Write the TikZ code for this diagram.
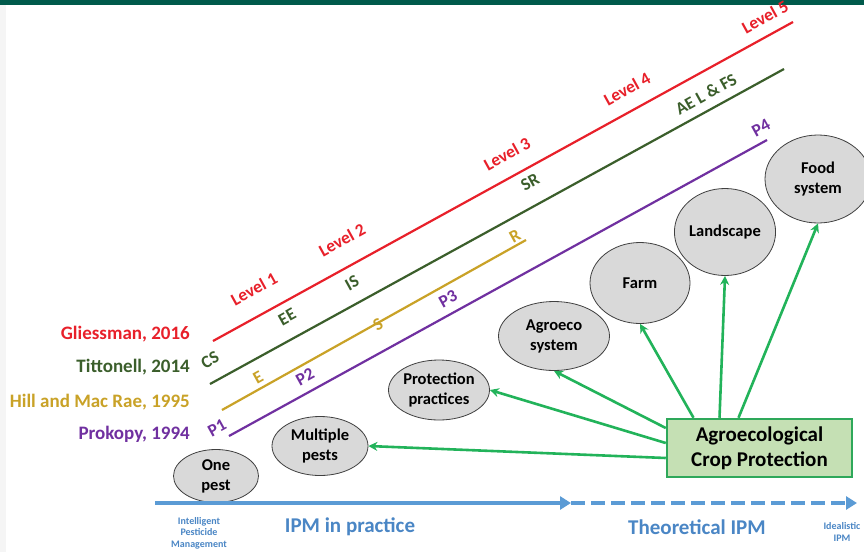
\documentclass[tikz,border=0pt]{standalone}
\usepackage{fontspec}
\setmainfont{Carlito}
\usetikzlibrary{arrows.meta,shapes.geometric}
\definecolor{cred}{HTML}{E8202A}
\definecolor{cgreen}{HTML}{3B5E2B}
\definecolor{cgold}{HTML}{C9A227}
\definecolor{cpurple}{HTML}{7030A0}
\definecolor{cblue}{HTML}{5B9BD5}
\definecolor{cbluetxt}{HTML}{4A86C5}
\definecolor{carrow}{HTML}{22B35A}
\definecolor{cboxfill}{HTML}{C5E0B4}
\definecolor{cboxdraw}{HTML}{2EA85A}
\definecolor{cband}{HTML}{005A4B}
\definecolor{cgray}{HTML}{D9D9D9}
\tikzset{
  lvl/.style={font=\bfseries\fontsize{17.5}{17.5}\selectfont, rotate=29, inner sep=0pt},
  author/.style={font=\bfseries\fontsize{19}{19}\selectfont, anchor=east, inner sep=0pt},
  oval/.style={ellipse, draw=black!75, line width=0.8pt, fill=cgray, align=center,
     font=\bfseries\fontsize{16.5}{20}\selectfont, inner sep=0pt},
  garrow/.style={draw=carrow, line width=2.6pt, -{Stealth[length=9pt,width=9pt]}},
  axisarr/.style={draw=cblue, line width=3.5pt, -{Triangle[length=11pt,width=13pt]}},
  small/.style={text=cbluetxt, font=\bfseries\fontsize{10}{11.5}\selectfont, align=center},
  big/.style={text=cbluetxt, font=\bfseries\fontsize{21}{23}\selectfont},
}
\begin{document}
\begin{tikzpicture}[x=1pt,y=-1pt]
\useasboundingbox (0,0) rectangle (864,552);
\fill[white] (0,0) rectangle (864,552);
\fill[black!4] (0,0) rectangle (6,552);
\fill[cband] (0,0) rectangle (864,5);
% level lines
\coordinate (r1) at (213,341); \coordinate (r2) at (793,22);
\coordinate (g1) at (210,384); \coordinate (g2) at (784,69);
\coordinate (y1) at (222,410); \coordinate (y2) at (526,240);
\coordinate (p1) at (229,436); \coordinate (p2) at (767,140);
\draw[cred, line width=2.2pt] (r1) -- (r2);
\draw[cgreen, line width=2.2pt] (g1) -- (g2);
\draw[cgold, line width=2.2pt] (y1) -- (y2);
\draw[cpurple, line width=2.2pt] (p1) -- (p2);
% authors
\node[author, text=cred] (a1) at (190,334) {Gliessman, 2016};
\node[author, text=cgreen] (a2) at (190,367) {Tittonell, 2014};
\node[author, text=cgold] (a3) at (190,402) {Hill and Mac Rae, 1995};
\node[author, text=cpurple] (a4) at (190,434) {Prokopy, 1994};
% level labels
\node[lvl, text=cred] (l1) at (254,289) {Level 1};
\node[lvl, text=cred] (l2) at (342,240) {Level 2};
\node[lvl, text=cred] (l3) at (507,154) {Level 3};
\node[lvl, text=cred] (l4) at (627,89) {Level 4};
\node[lvl, text=cred] (l5) at (765,17) {Level 5};
\node[lvl, text=cgreen] (cs) at (210,360) {CS};
\node[lvl, text=cgreen] (ee) at (287,317) {EE};
\node[lvl, text=cgreen] (is) at (352,283) {IS};
\node[lvl, text=cgreen] (sr) at (530,182) {SR};
\node[lvl, text=cgreen] (ae) at (706,94) {AE L \& FS};
\node[lvl, text=cgold] (e) at (258,377) {E};
\node[lvl, text=cgold] (s) at (378,325) {S};
\node[lvl, text=cgold] (rr) at (515,236) {R};
\node[lvl, text=cpurple] (pp1) at (217,428) {P1};
\node[lvl, text=cpurple] (pp2) at (305,377) {P2};
\node[lvl, text=cpurple] (pp3) at (448,299) {P3};
\node[lvl, text=cpurple] (pp4) at (761,128) {P4};
% ovals
\node[oval, minimum width=85, minimum height=53] (one) at (216,476) {One\\pest};
\node[oval, minimum width=96, minimum height=59] (multi) at (320,446) {Multiple\\pests};
\node[oval, minimum width=98, minimum height=60] (prot) at (439,390) {Protection\\practices};
\node[oval, minimum width=111, minimum height=69] (agro) at (554,336) {Agroeco\\system};
\node[oval, minimum width=100, minimum height=81] (farm) at (640,283) {Farm};
\node[oval, minimum width=100, minimum height=87] (land) at (725,232) {Landscape};
\node[oval, minimum width=106, minimum height=88] (food) at (818,179) {Food\\system};
% box
\node[draw=cboxdraw, line width=2.5pt, fill=cboxfill, minimum width=185, minimum height=58,
  align=center, font=\bfseries\fontsize{21}{25}\selectfont, inner sep=0pt] (acp) at (759.5,448) {Agroecological\\Crop Protection};
% green arrows
\draw[garrow] ([yshift=-10]acp.west) -- (multi.east);
\draw[garrow] ([yshift=5]acp.west) -- (prot.east);
\draw[garrow] ([yshift=20]acp.west) -- (agro.south);
\draw[garrow] ([xshift=-66]acp.north) -- (farm.south);
\draw[garrow] ([xshift=-40]acp.north) -- (land.south);
\draw[garrow] ([xshift=-21]acp.north) -- (food.south);
% axis
\coordinate (ax0) at (155,503);
\coordinate (ax1) at (571,503);
\coordinate (ax2) at (857,503);
\draw[axisarr] (ax0) -- (ax1);
\draw[axisarr, dash pattern=on 14pt off 6pt] (ax1) -- (ax2);
\node[small] (ipm0) at (199,533) {Intelligent\\Pesticide\\Management};
\node[big] (ipm1) at (350,527) {IPM in practice};
\node[big] (ipm2) at (697,527) {Theoretical IPM};
\node[small, anchor=west] (ipm3) at (820,532) {Idealistic\\IPM};
\end{tikzpicture}
\end{document}
